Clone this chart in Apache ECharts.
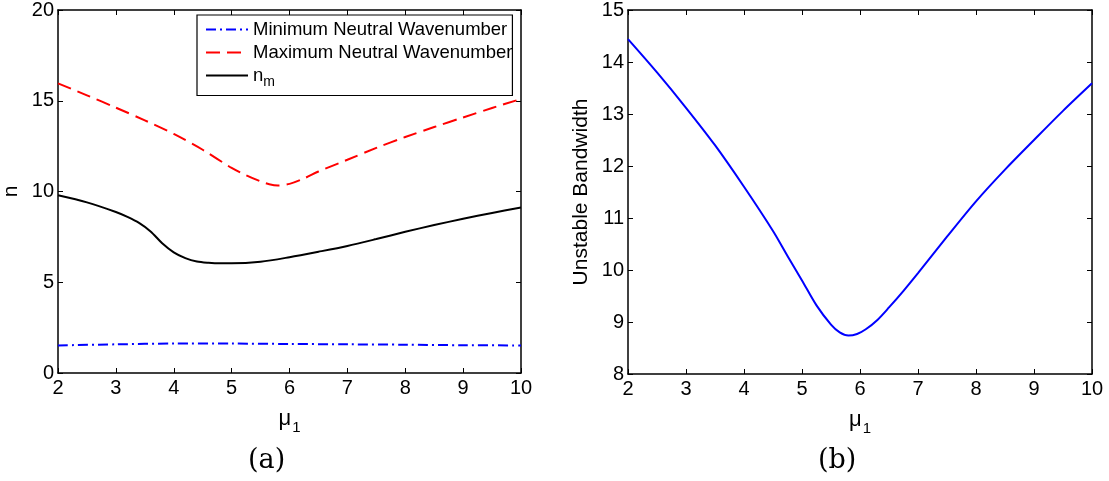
<!DOCTYPE html>
<html>
<head>
<meta charset="utf-8">
<script src="https://cdn.jsdelivr.net/npm/echarts@6/dist/echarts.min.js"></script>
<style>
html,body{margin:0;padding:0;background:#fff;}
#c{width:1109px;height:481px;}
</style>
</head>
<body>
<div id="c"></div>
<script>
// ---- Data ----
var minX = [2, 3, 4, 5, 6, 7, 8, 9, 10];
var minY = [1.52, 1.58, 1.62, 1.62, 1.6, 1.58, 1.56, 1.53, 1.52];

var maxX = [2, 2.5, 3, 3.5, 4, 4.5, 5, 5.25, 5.5, 5.65, 5.8, 6, 6.25, 6.5, 7, 7.5, 8, 8.5, 9, 9.5, 10];
var maxY = [15.96, 15.3, 14.62, 13.92, 13.17, 12.3, 11.3, 10.9, 10.56, 10.4, 10.33, 10.42, 10.72, 11.1, 11.75, 12.4, 13.0, 13.55, 14.08, 14.6, 15.1];

var nmX = [2, 2.5, 3, 3.2, 3.4, 3.6, 3.8, 4, 4.2, 4.4, 4.6, 4.8, 5, 5.5, 6, 6.5, 7, 7.5, 8, 8.5, 9, 9.5, 10];
var nmY = [9.79, 9.4, 8.87, 8.6, 8.27, 7.8, 7.15, 6.65, 6.33, 6.14, 6.07, 6.04, 6.04, 6.13, 6.38, 6.68, 7.0, 7.38, 7.78, 8.15, 8.5, 8.82, 9.12];

var bwX = [2, 2.5, 3, 3.5, 4, 4.5, 4.75, 5, 5.25, 5.5, 5.65, 5.8, 5.95, 6.1, 6.3, 6.5, 6.75, 7, 7.5, 8, 8.5, 9, 9.5, 10];
var bwY = [14.44, 13.8, 13.12, 12.4, 11.6, 10.75, 10.27, 9.8, 9.32, 8.95, 8.8, 8.74, 8.77, 8.86, 9.04, 9.28, 9.6, 9.94, 10.64, 11.32, 11.93, 12.5, 13.06, 13.59];

var seriesNames = ['Minimum Neutral Wavenumber', 'Maximum Neutral Wavenumber', 'n_m'];
var captions = ['(a)', '(b)'];

function pairs(xs, ys) { return xs.map(function (x, i) { return [x, ys[i]]; }); }

var FONT = '"Liberation Sans", Arial, Helvetica, sans-serif';
var axisText = { color: '#000', fontFamily: FONT, fontSize: 20 };
var muName = {
  name: '{m|μ}{s|1}',
  nameLocation: 'middle',
  nameGap: 21,
  nameTextStyle: {
    rich: {
      m: { fontFamily: FONT, fontSize: 22, color: '#000', lineHeight: 24 },
      s: { fontFamily: FONT, fontSize: 15, color: '#000', padding: [17, 0, 0, 1], lineHeight: 24 }
    }
  }
};

function xAxes(gi) {
  var base = {
    gridIndex: gi, type: 'value', min: 2, max: 10, interval: 1,
    axisLine: { show: true, onZero: false, lineStyle: { color: '#000', width: 1.5 } },
    axisTick: { show: true, inside: true, length: 5, lineStyle: { color: '#000', width: 1 } },
    splitLine: { show: false }
  };
  var bottom = Object.assign({}, base, muName, {
    position: 'bottom',
    axisLabel: Object.assign({ margin: 5 }, axisText)
  });
  var top = Object.assign({}, base, { position: 'top', axisLabel: { show: false } });
  return [bottom, top];
}
function yAxes(gi, min, max, interval, name) {
  var base = {
    gridIndex: gi, type: 'value', min: min, max: max, interval: interval,
    axisLine: { show: true, onZero: false, lineStyle: { color: '#000', width: 1.5 } },
    axisTick: { show: true, inside: true, length: 5, lineStyle: { color: '#000', width: 1 } },
    splitLine: { show: false }
  };
  var left = Object.assign({}, base, {
    position: 'left',
    name: name, nameLocation: 'middle', nameGap: 36,
    nameTextStyle: { color: '#000', fontFamily: FONT, fontSize: 21 },
    axisLabel: Object.assign({ margin: 4 }, axisText)
  });
  var right = Object.assign({}, base, { position: 'right', axisLabel: { show: false } });
  return [left, right];
}

var xa = xAxes(0).concat(xAxes(1));
var ya = yAxes(0, 0, 20, 5, 'n').concat(yAxes(1, 8, 15, 1, 'Unstable Bandwidth'));

var chart = echarts.init(document.getElementById('c'), null, { renderer: 'canvas' });
chart.setOption({
  animation: false,
  backgroundColor: '#fff',
  grid: [
    { left: 57, top: 9, width: 464, height: 364 },
    { left: 628, top: 10, width: 464, height: 364 }
  ],
  xAxis: xa,
  yAxis: ya,
  legend: {
    data: seriesNames,
    orient: 'vertical',
    left: 197, top: 15,
    padding: [5, 0, 6, 8],
    itemGap: 4,
    itemWidth: 42, itemHeight: 14,
    backgroundColor: '#fff',
    borderColor: '#000', borderWidth: 1.2, borderRadius: 0,
    selectedMode: false,
    itemStyle: { color: 'transparent', borderWidth: 0, opacity: 0 },
    formatter: function (n) { return n === 'n_m' ? '{n|n}{s|m}' : n; },
    textStyle: {
      color: '#000', fontFamily: FONT, fontSize: 18.5,
      rich: {
        n: { fontFamily: FONT, fontSize: 18.5, color: '#000' },
        s: { fontFamily: FONT, fontSize: 14, color: '#000', padding: [14, 0, 0, 0] }
      }
    }
  },
  series: [
    { name: seriesNames[0], type: 'line', xAxisIndex: 0, yAxisIndex: 0, data: pairs(minX, minY),
      showSymbol: false, symbol: 'none', smooth: 0.3,
      lineStyle: { color: '#0000ff', width: 2, type: [10, 4, 2, 4] }, itemStyle: { color: '#0000ff' } },
    { name: seriesNames[1], type: 'line', xAxisIndex: 0, yAxisIndex: 0, data: pairs(maxX, maxY),
      showSymbol: false, symbol: 'none', smooth: 0.3,
      lineStyle: { color: '#ff0000', width: 2, type: [14, 7] }, itemStyle: { color: '#ff0000' } },
    { name: seriesNames[2], type: 'line', xAxisIndex: 0, yAxisIndex: 0, data: pairs(nmX, nmY),
      showSymbol: false, symbol: 'none', smooth: 0.3,
      lineStyle: { color: '#000', width: 2 }, itemStyle: { color: '#000' } },
    { name: 'Unstable Bandwidth', type: 'line', xAxisIndex: 2, yAxisIndex: 2, data: pairs(bwX, bwY),
      showSymbol: false, symbol: 'none', smooth: 0.3,
      lineStyle: { color: '#0000ff', width: 2 }, itemStyle: { color: '#0000ff' } }
  ],
  graphic: [
    { type: 'text', left: 248, top: 447,
      style: { text: captions[0], font: '27px "DejaVu Serif", "Liberation Serif", serif', fill: '#000' } },
    { type: 'text', left: 818, top: 447,
      style: { text: captions[1], font: '27px "DejaVu Serif", "Liberation Serif", serif', fill: '#000' } }
  ]
});
</script>
</body>
</html>
